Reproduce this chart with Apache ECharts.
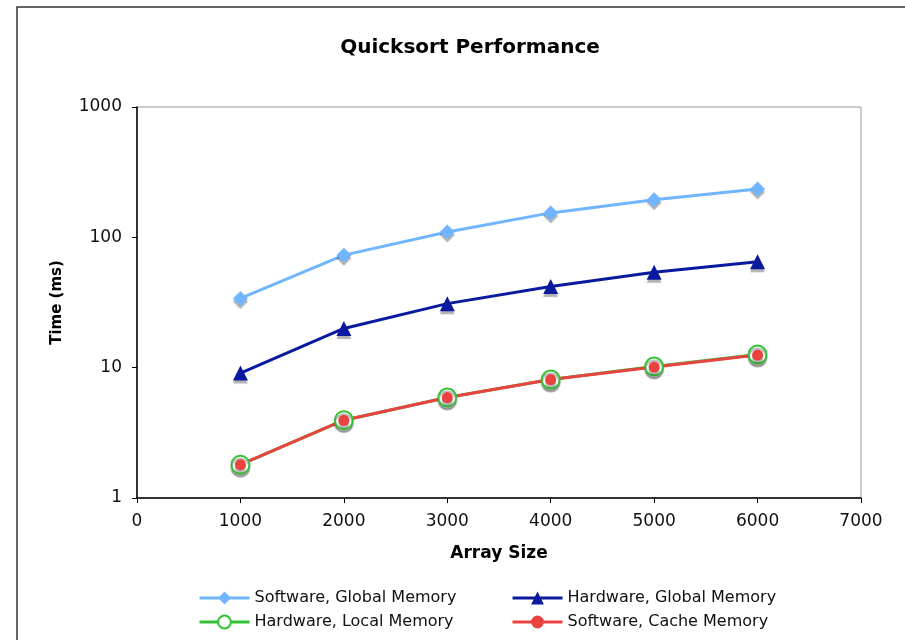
<!DOCTYPE html>
<html>
<head>
<meta charset="utf-8">
<script src="https://cdn.jsdelivr.net/npm/echarts@6/dist/echarts.min.js"></script>
<style>html,body{margin:0;padding:0;background:#fff}#main{width:905px;height:640px}</style>
</head>
<body>
<div id="main"></div>
<script>
var sizes = [1000, 2000, 3000, 4000, 5000, 6000];
var swGlobal = [34, 73, 110, 154, 194, 235];
var hwGlobal = [9.1, 20, 31, 42, 54, 65];
var hwLocal = [1.8, 3.95, 5.9, 8.1, 10.2, 12.6];
var swCache = [1.8, 3.95, 5.9, 8.1, 10.1, 12.5];

var font = 'DejaVu Sans';
function pairs(vals) {
    return sizes.map(function (s, i) { return [s, vals[i]]; });
}
var shadow = { shadowColor: 'rgba(0,0,0,0.3)', shadowOffsetY: 3, shadowBlur: 1 };
var legendText = { fontFamily: font, fontSize: 16, color: '#111' };

var myChart = echarts.init(document.getElementById('main'));
var option = {
    backgroundColor: '#fff',
    animation: false,
    title: {
        text: 'Quicksort Performance',
        left: 465, top: 33, textAlign: 'center',
        textStyle: { fontFamily: font, fontSize: 20, fontWeight: 'bold', color: '#000' }
    },
    graphic: [{
        type: 'rect',
        shape: { x: 17, y: 7, width: 1000, height: 1000 },
        style: { fill: 'none', stroke: '#333', lineWidth: 1.5 }
    }],
    legend: [{
        orient: 'vertical', left: 193, top: 585, itemGap: 8,
        itemWidth: 50, itemHeight: 16,
        lineStyle: { width: 3 },
        data: ['Software, Global Memory', 'Hardware, Local Memory'],
        textStyle: legendText
    }, {
        orient: 'vertical', left: 506, top: 585, itemGap: 8,
        itemWidth: 50, itemHeight: 16,
        lineStyle: { width: 3 },
        data: ['Hardware, Global Memory', 'Software, Cache Memory'],
        textStyle: legendText
    }],
    grid: {
        left: 137, right: 44, top: 107, bottom: 142,
        show: true, borderColor: '#999', borderWidth: 1
    },
    xAxis: {
        type: 'value', min: 0, max: 7000, interval: 1000,
        name: 'Array Size', nameLocation: 'middle', nameGap: 47,
        nameTextStyle: { fontFamily: font, fontSize: 17, fontWeight: 'bold', color: '#000' },
        axisLine: { lineStyle: { color: '#000', width: 1.5 } },
        axisTick: { show: true, length: 5, lineStyle: { color: '#000' } },
        axisLabel: { fontFamily: font, fontSize: 17, color: '#111', margin: 15,
            formatter: function (v) { return String(v); } },
        splitLine: { show: false }
    },
    yAxis: {
        type: 'log', logBase: 10, min: 1, max: 1000,
        name: 'Time (ms)', nameLocation: 'middle', nameGap: 72,
        nameTextStyle: { fontFamily: font, fontSize: 15, fontWeight: 'bold', color: '#000' },
        axisLine: { show: true, lineStyle: { color: '#000', width: 1.5 } },
        axisTick: { show: true, length: 5, lineStyle: { color: '#000' } },
        axisLabel: { fontFamily: font, fontSize: 17, color: '#111', margin: 15,
            formatter: function (v) { return String(v); } },
        splitLine: { show: false }
    },
    series: [{
        name: 'Software, Global Memory', type: 'line', data: pairs(swGlobal),
        symbol: 'diamond', symbolSize: 15,
        lineStyle: { color: '#70b5ff', width: 3 },
        itemStyle: Object.assign({ color: '#70b5ff' }, shadow)
    }, {
        name: 'Hardware, Global Memory', type: 'line', data: pairs(hwGlobal),
        symbol: 'triangle', symbolSize: 15,
        lineStyle: { color: '#0a1a9e', width: 3 },
        itemStyle: Object.assign({ color: '#0a1a9e' }, shadow)
    }, {
        name: 'Hardware, Local Memory', type: 'line', data: pairs(hwLocal),
        symbol: 'emptyCircle', symbolSize: 18,
        lineStyle: { color: '#33c233', width: 3 },
        itemStyle: Object.assign({ color: '#33c233', borderWidth: 2 }, shadow)
    }, {
        name: 'Software, Cache Memory', type: 'line', data: pairs(swCache),
        symbol: 'circle', symbolSize: 11,
        lineStyle: { color: '#e8433f', width: 3 },
        itemStyle: Object.assign({ color: '#e8433f' }, shadow)
    }]
};
myChart.setOption(option);
</script>
</body>
</html>
